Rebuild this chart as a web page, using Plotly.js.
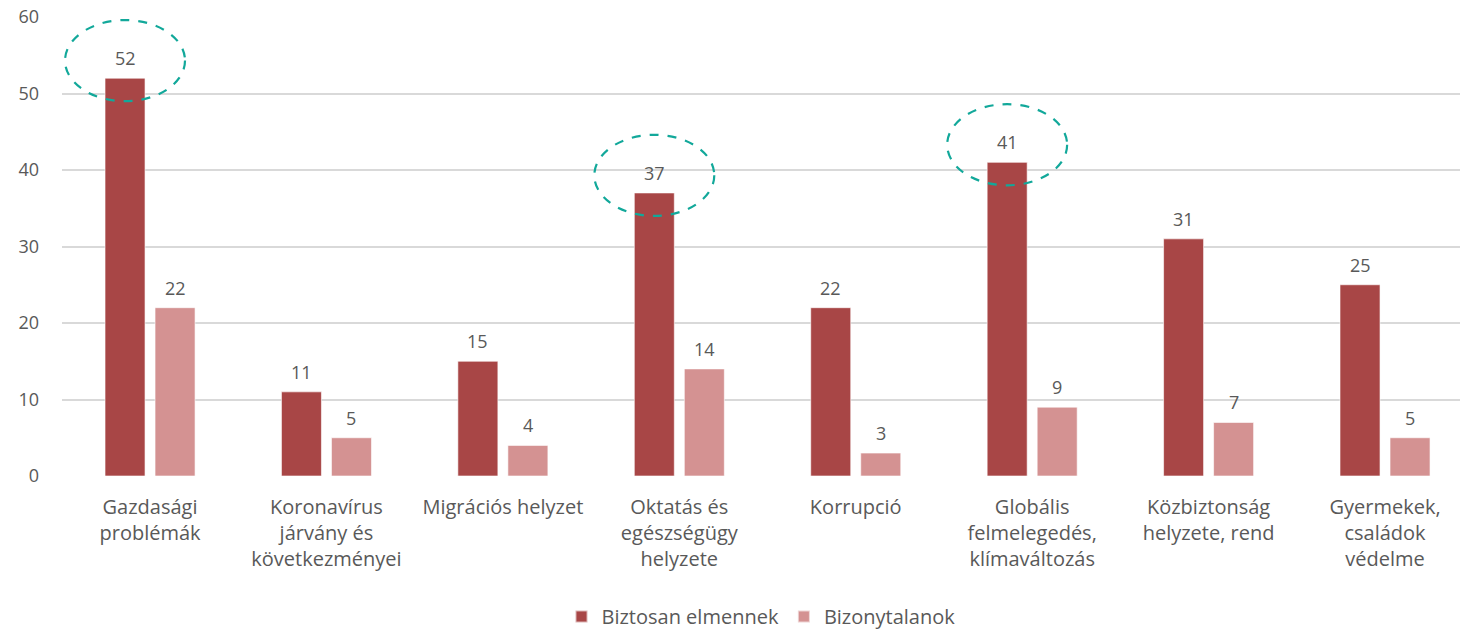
<!DOCTYPE html>
<html>
<head>
<meta charset="utf-8">
<script src="https://cdn.plot.ly/plotly-3.0.1.min.js"></script>
<style>html,body{margin:0;padding:0;background:#fff;}#chart{width:1462px;height:633px;}</style>
</head>
<body>
<div id="chart"></div>
<script>
const categories = [
  "Gazdasági<br>problémák",
  "Koronavírus<br>járvány és<br>következményei",
  "Migrációs helyzet",
  "Oktatás és<br>egészségügy<br>helyzete",
  "Korrupció",
  "Globális<br>felmelegedés,<br>klímaváltozás",
  "Közbiztonság<br>helyzete, rend",
  "Gyermekek,<br>családok<br>védelme"
];
const seriesNames = ["Biztosan elmennek", "Bizonytalanok"];
const biztosan = [52, 11, 15, 37, 22, 41, 31, 25];
const bizonytalan = [22, 5, 4, 14, 3, 9, 7, 5];
const highlighted = [0, 3, 5];
const yTicks = [0, 10, 20, 30, 40, 50, 60];

const colors = ["#A84646", "#D49292"];
const textColor = "#595959";
const FONT = "Open Sans, sans-serif";
const BARGAP = 0.433, GROUPGAP = 0.2;
const slot = (1 - BARGAP) / 2;
const offsets = [-slot / 2, slot / 2];

const idx = categories.map((c, i) => i);
const traces = [biztosan, bizonytalan].map((vals, s) => ({
  type: "bar",
  name: seriesNames[s],
  x: idx,
  y: vals,
  marker: { color: colors[s], line: { color: "rgba(255,255,255,0.6)", width: 1 } },
  hoverinfo: "y"
}));

const annotations = [];
[biztosan, bizonytalan].forEach((vals, s) => {
  vals.forEach((v, i) => {
    annotations.push({
      x: i + offsets[s], y: v, xref: "x", yref: "y",
      text: String(v), showarrow: false,
      yanchor: "bottom", yshift: 6,
      font: { family: FONT, size: 18, color: textColor }
    });
  });
});

const shapes = highlighted.map(i => ({
  type: "circle", xref: "x", yref: "y", layer: "above",
  x0: i + offsets[0] - 0.34, x1: i + offsets[0] + 0.34,
  y0: biztosan[i] + 2.3 - 5.3, y1: biztosan[i] + 2.3 + 5.3,
  line: { color: "#12A89A", width: 2.2, dash: "dash" }
}));

const layout = {
  width: 1462, height: 633,
  margin: { l: 62, r: 2, t: 17, b: 157, autoexpand: false },
  paper_bgcolor: "#fff", plot_bgcolor: "#fff",
  barmode: "group", bargap: BARGAP, bargroupgap: GROUPGAP,
  showlegend: true,
  legend: {
    orientation: "h", x: 0.5, xanchor: "center",
    yref: "container", y: 0.026, yanchor: "middle",
    font: { family: FONT, size: 20, color: textColor },
    itemsizing: "constant", traceorder: "normal", itemwidth: 30
  },
  xaxis: {
    type: "linear", range: [-0.499, 7.425],
    tickmode: "array", tickvals: idx, ticktext: categories,
    showgrid: false, zeroline: false, showline: false, ticks: "",
    ticklabelstandoff: 17, automargin: false,
    tickfont: { family: FONT, size: 20, color: textColor },
    fixedrange: true
  },
  yaxis: {
    range: [0, 60], tickmode: "array", tickvals: yTicks,
    showgrid: true, gridcolor: "#D9D9D9", gridwidth: 2,
    zeroline: false, showline: false, ticks: "",
    ticklabelstandoff: 22, automargin: false,
    tickfont: { family: FONT, size: 18, color: textColor },
    fixedrange: true
  },
  annotations: annotations,
  shapes: shapes
};

Plotly.newPlot("chart", traces, layout, { displayModeBar: false, staticPlot: true });
</script>
</body>
</html>
